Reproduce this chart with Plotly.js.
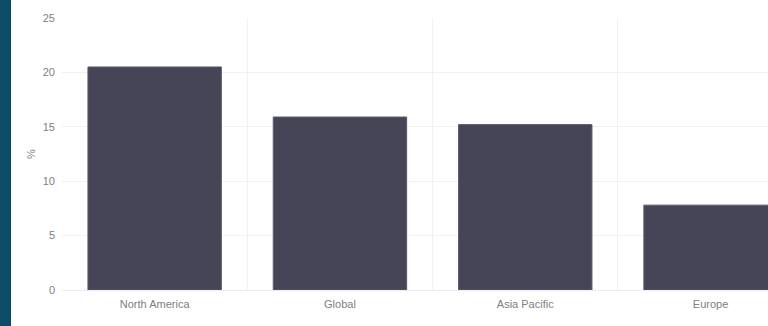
<!DOCTYPE html>
<html>
<head>
<meta charset="utf-8">
<script src="https://cdn.plot.ly/plotly-3.0.1.min.js"></script>
<style>
html,body{margin:0;padding:0;background:#fff;overflow:hidden;}
#band{position:absolute;left:0;top:0;width:11px;height:326px;background:#0b4c66;z-index:5;}
#chart{position:absolute;left:0;top:0;width:768px;height:326px;}
</style>
</head>
<body>
<div id="band"></div>
<div id="chart"></div>
<script>
const categories = ["North America", "Global", "Asia Pacific", "Europe"];
const values = [20.5, 15.9, 15.2, 7.8];
const yTicks = [0, 5, 10, 15, 20, 25];

const trace = {
  type: "bar",
  x: categories,
  y: values,
  marker: {color: "#464558", line: {color: "#5c5b70", width: 1}},
  hoverinfo: "x+y"
};

const layout = {
  width: 768,
  height: 326,
  margin: {l: 62, r: 0, t: 18, b: 36},
  paper_bgcolor: "rgba(0,0,0,0)",
  plot_bgcolor: "#ffffff",
  bargap: 0.28,
  showlegend: false,
  font: {family: "Liberation Sans, Arial, sans-serif", size: 11, color: "#808080"},
  xaxis: {
    type: "category",
    range: [-0.5, 3.31],
    tickson: "boundaries",
    ticklen: 0,
    ticklabelstandoff: 6,
    showgrid: true,
    gridcolor: "#f1f1f1",
    gridwidth: 1,
    showline: false,
    zeroline: false,
    tickfont: {size: 11, color: "#808080"}
  },
  yaxis: {
    range: [0, 25],
    tickvals: yTicks,
    showgrid: true,
    gridcolor: "#f1f1f1",
    zeroline: true,
    zerolinecolor: "#ececec",
    showline: false,
    ticks: "",
    ticklabelstandoff: 6,
    tickfont: {size: 11, color: "#808080"},
    title: {text: "%", font: {size: 11, color: "#808080"}, standoff: 4}
  }
};

Plotly.newPlot("chart", [trace], layout, {displayModeBar: false, staticPlot: true});
</script>
</body>
</html>
